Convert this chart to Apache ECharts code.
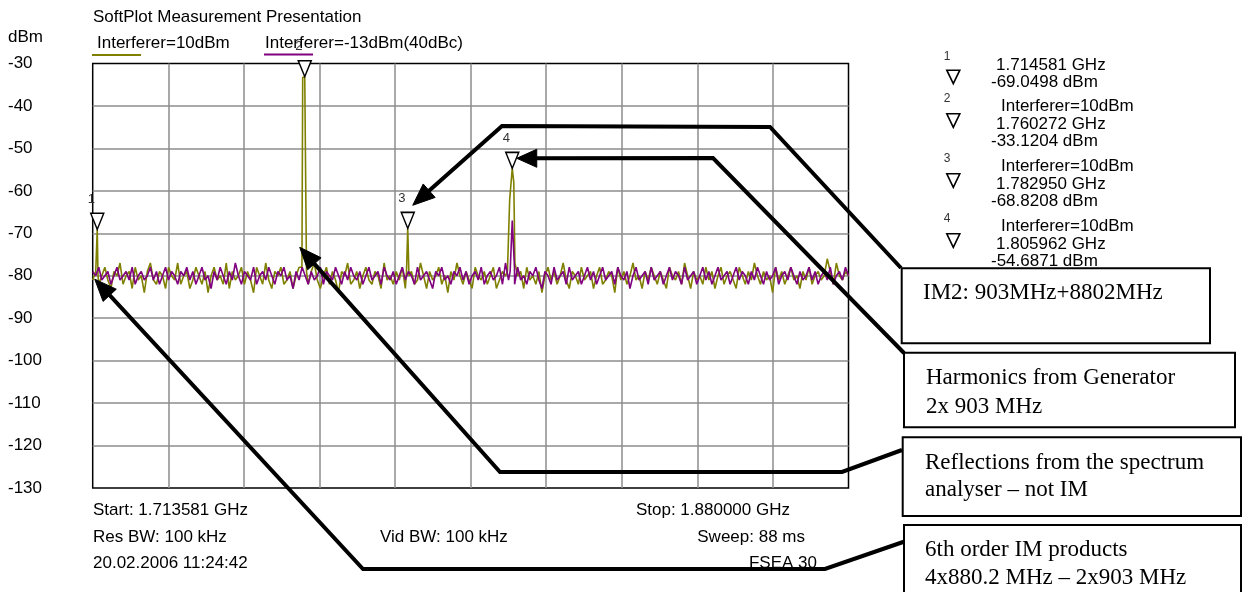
<!DOCTYPE html>
<html><head><meta charset="utf-8">
<script src="https://cdn.jsdelivr.net/npm/echarts@6/dist/echarts.min.js"></script>
<style>html,body{margin:0;padding:0;background:#fff}#c{width:1242px;height:592px}</style>
</head><body><div id="c"></div>
<script>
// ---------------- data ----------------
const START_GHZ = 1.713581;
const STOP_GHZ = 1.880000;
const Y_MIN = -130, Y_MAX = -30, Y_STEP = 10;
const seriesNames = ['Interferer=10dBm', 'Interferer=-13dBm(40dBc)'];
const seriesColors = ['#808000', '#800080'];

// noise floor of the sweep (dBm), evenly spaced from start to stop
const yellowNoise = [
-81,-79,-82,-80,-78,-81,-83,-79,-80,-77,
-82,-80,-79,-83,-78,-81,-80,-84,-79,-77,
-81,-82,-79,-80,-83,-78,-80,-81,-77,-82,
-80,-79,-83,-81,-78,-80,-82,-79,-84,-80,
-78,-81,-80,-82,-77,-83,-79,-81,-80,-78,
-82,-79,-81,-84,-78,-80,-82,-77,-81,-83,
-79,-80,-78,-82,-81,-79,-83,-80,-78,-81,
-80,-82,-79,-77,-81,-83,-80,-78,-82,-79,
-81,-84,-79,-80,-77,-82,-81,-79,-83,-80,
-78,-81,-82,-79,-80,-83,-77,-81,-80,-82,
-79,-81,-78,-83,-80,-79,-82,-81,-77,-80,
-83,-79,-81,-80,-78,-82,-80,-84,-79,-81,
-77,-80,-82,-79,-81,-83,-78,-80,-81,-79,
-82,-80,-78,-83,-81,-79,-80,-82,-77,-81,
-80,-79,-83,-78,-81,-80,-82,-79,-84,-80,
-78,-81,-79,-82,-80,-77,-81,-83,-79,-80,
-82,-78,-81,-80,-79,-83,-80,-78,-82,-81,
-79,-80,-84,-78,-81,-79,-82,-80,-77,-81,
-80,-83,-79,-81,-78,-80,-82,-79,-81,-83,
-78,-80,-81,-79,-82,-77,-80,-83,-79,-81,
-80,-82,-78,-81,-79,-83,-80,-78,-82,-80,
-79,-81,-83,-78,-80,-82,-79,-81,-77,-80,
-82,-79,-81,-80,-84,-78,-81,-79,-82,-80,
-78,-81,-80,-83,-79,-81,-78,-82,-80,-79,
-81,-80,-76,-79,-82,-77,-80,-81,-79,-80
];
const purpleNoise = [
-79,-80,-78,-81,-80,-79,-82,-80,-78,-81,
-80,-79,-81,-78,-82,-80,-79,-81,-80,-78,
-81,-79,-82,-80,-78,-81,-79,-80,-82,-79,
-80,-78,-81,-79,-82,-80,-78,-81,-80,-83,
-79,-81,-78,-80,-82,-79,-81,-77,-80,-82,
-79,-80,-81,-78,-82,-80,-79,-81,-78,-80,
-82,-79,-80,-78,-81,-80,-83,-79,-81,-78,
-80,-82,-79,-81,-80,-78,-82,-79,-80,-81,
-78,-80,-82,-79,-81,-78,-80,-81,-79,-82,
-80,-78,-81,-80,-79,-82,-78,-80,-81,-79,
-82,-80,-78,-81,-79,-80,-82,-78,-81,-80,
-79,-81,-83,-79,-80,-78,-81,-80,-82,-79,
-80,-78,-81,-79,-82,-80,-79,-81,-78,-82,
-80,-79,-81,-80,-78,-82,-77,-81,-79,-82,
-78,-81,-80,-82,-79,-80,-78,-81,-83,-79,
-80,-82,-78,-81,-80,-79,-82,-78,-81,-80,
-79,-82,-80,-78,-81,-79,-82,-80,-78,-81,
-80,-79,-82,-78,-80,-81,-79,-83,-80,-78,
-81,-80,-79,-82,-78,-81,-80,-79,-82,-80,
-78,-81,-79,-80,-82,-78,-81,-80,-79,-82,
-80,-78,-81,-79,-82,-80,-78,-81,-80,-79,
-82,-80,-78,-81,-79,-80,-82,-79,-81,-78,
-80,-82,-79,-81,-80,-78,-82,-80,-79,-81,
-78,-80,-82,-79,-81,-80,-78,-81,-79,-82,
-80,-79,-81,-78,-82,-80,-79,-81,-78,-80
];
// spectral lines [GHz, dBm]
const yellowPeaks = [
  [[1.71440,-79],[1.714581,-69.0498],[1.71475,-80]],
  [[1.75965,-78],[1.75982,-33.3],[1.760272,-33.1204],[1.76050,-33.4],[1.76066,-79]],
  [[1.78268,-79],[1.782950,-68.8208],[1.78322,-80]],
  [[1.80490,-79],[1.80540,-62],[1.805962,-54.6871],[1.80630,-58],[1.80655,-77]]
];
const purplePeaks = [
  [[1.80550,-79],[1.805962,-67],[1.80645,-78]]
];
// markers
const markerFreqs  = [1.714581, 1.760272, 1.782950, 1.805962];
const markerLevels = [-69.0498, -33.1204, -68.8208, -54.6871];
const markerTrace  = ['', 'Interferer=10dBm', 'Interferer=10dBm', 'Interferer=10dBm'];
// annotation texts
const annotations = [
  ['IM2: 903MHz+8802MHz'],
  ['Harmonics from Generator', '2x 903 MHz'],
  ['Reflections from the spectrum', 'analyser \u2013 not IM'],
  ['6th order IM products', '4x880.2 MHz \u2013 2x903 MHz']
];
const titleText = 'SoftPlot Measurement Presentation';
const unitText = 'dBm';
const resBW = 'Res BW: 100 kHz', vidBW = 'Vid BW: 100 kHz', sweep = 'Sweep: 88 ms';
const dateText = '20.02.2006 11:24:42', instr = 'FSEA 30';

// ---------------- build ----------------
function buildTrace(noise, peaks) {
  const step = (STOP_GHZ - START_GHZ) / (noise.length - 1);
  let pts = noise.map((v, i) => [START_GHZ + i * step, v]);
  peaks.forEach(g => {
    const lo = g[0][0], hi = g[g.length - 1][0];
    pts = pts.filter(p => p[0] < lo || p[0] > hi);
    pts = pts.concat(g);
  });
  pts.sort((a, b) => a[0] - b[0]);
  return pts;
}
const SANS = '"Liberation Sans", Arial, sans-serif';
const SERIF = '"Liberation Serif", "Times New Roman", serif';

const chart = echarts.init(document.getElementById('c'), null, {renderer: 'canvas'});
const gridL = 92.7, gridT = 63.5, gridR = 1242 - 848.5, gridB = 592 - 488;

const option = {
  animation: false,
  backgroundColor: '#fff',
  grid: {left: gridL, top: gridT, right: gridR, bottom: gridB, show: true, borderColor: '#000', borderWidth: 1.5, backgroundColor: 'transparent'},
  xAxis: [
    {type: 'value', min: START_GHZ, max: STOP_GHZ, axisLine: {show: false}, axisTick: {show: false}, axisLabel: {show: false}, splitLine: {show: false}},
    {type: 'value', min: 0, max: 10, interval: 1, position: 'bottom', axisLine: {show: false}, axisTick: {show: false}, axisLabel: {show: false},
     splitLine: {show: true, showMinLine: false, showMaxLine: false, lineStyle: {color: '#8c8c8c', width: 1.5}}}
  ],
  yAxis: {
    type: 'value', min: Y_MIN, max: Y_MAX, interval: Y_STEP,
    axisLine: {show: false}, axisTick: {show: false},
    axisLabel: {align: 'left', margin: gridL - 8, color: '#000', fontSize: 17, fontFamily: SANS},
    splitLine: {show: true, showMinLine: false, showMaxLine: false, lineStyle: {color: '#8c8c8c', width: 1.5}}
  },
  series: [
    {name: seriesNames[0], type: 'line', xAxisIndex: 0, data: buildTrace(yellowNoise, yellowPeaks), showSymbol: false, symbol: 'none',
     lineStyle: {color: seriesColors[0], width: 1.6}, z: 3},
    {name: seriesNames[1], type: 'line', xAxisIndex: 0, data: buildTrace(purpleNoise, purplePeaks), showSymbol: false, symbol: 'none',
     lineStyle: {color: seriesColors[1], width: 1.6}, z: 4},
    {name: 'markers', type: 'scatter', xAxisIndex: 0, z: 6,
     data: markerFreqs.map((f, i) => [f, markerLevels[i]]),
     symbol: 'triangle', symbolRotate: 180, symbolSize: [13, 16], symbolOffset: [0, '-50%'],
     itemStyle: {color: '#fff', borderColor: '#000', borderWidth: 1.5, opacity: 1},
     label: {show: true, position: 'top', distance: 7, offset: [-6, 0], formatter: p => String(p.dataIndex + 1), fontSize: 13, color: '#333', fontFamily: SANS}}
  ]
};
chart.setOption(option);

// ---------------- graphic overlay ----------------
function txt(text, x, y, opt) {
  opt = opt || {};
  return {type: 'text', x: x, y: y, z: 100, silent: true,
    style: {text: text, fill: opt.fill || '#000', font: opt.font || ('17px ' + SANS),
      align: opt.align || 'left', verticalAlign: 'middle', textAlign: opt.align || 'left', textVerticalAlign: 'middle'}};
}
function arrow(pts, headLen, headHalf) {
  const n = pts.length, tip = pts[n - 1], prev = pts[n - 2];
  const dx = tip[0] - prev[0], dy = tip[1] - prev[1], L = Math.hypot(dx, dy);
  const ux = dx / L, uy = dy / L;
  const base = [tip[0] - ux * headLen, tip[1] - uy * headLen];
  const left = [base[0] - uy * headHalf, base[1] + ux * headHalf];
  const right = [base[0] + uy * headHalf, base[1] - ux * headHalf];
  const linePts = pts.slice(0, n - 1).concat([[tip[0] - ux * headLen * 0.7, tip[1] - uy * headLen * 0.7]]);
  return [
    {type: 'polyline', z: 90, silent: true, shape: {points: linePts}, style: {stroke: '#000', lineWidth: 4, fill: null, lineJoin: 'miter'}},
    {type: 'polygon', z: 91, silent: true, shape: {points: [tip, left, right]}, style: {fill: '#000', stroke: '#000', lineWidth: 1}}
  ];
}
const px = (f, v) => chart.convertToPixel({xAxisIndex: 0, yAxisIndex: 0}, [f, v]);
const g = [];
// title, unit, legend
g.push(txt(titleText, 93, 17));
g.push(txt(unitText, 8, 37));
g.push(txt(seriesNames[0], 97, 43));
g.push({type: 'line', z: 100, shape: {x1: 92, y1: 55, x2: 141, y2: 55}, style: {stroke: seriesColors[0], lineWidth: 2}});
g.push(txt(seriesNames[1], 265, 43));
g.push({type: 'line', z: 100, shape: {x1: 264, y1: 54.5, x2: 313, y2: 54.5}, style: {stroke: seriesColors[1], lineWidth: 2}});
// footer
g.push(txt('Start: ' + START_GHZ.toFixed(6) + ' GHz', 93, 510));
g.push(txt('Stop: ' + STOP_GHZ.toFixed(6) + ' GHz', 790, 510, {align: 'right'}));
g.push(txt(resBW, 93, 537));
g.push(txt(vidBW, 380, 537));
g.push(txt(sweep, 805, 537, {align: 'right'}));
g.push(txt(dateText, 93, 563));
g.push(txt(instr, 817, 563, {align: 'right'}));
// marker list
const groupTop = [56.7, 98.3, 158.3, 218.3];
markerFreqs.forEach((f, i) => {
  const t = groupTop[i];
  g.push(txt(String(i + 1), 947, t, {font: '12px ' + SANS, fill: '#333', align: 'center'}));
  const triY = i === 0 ? t + 20 : t + 22;
  g.push({type: 'polygon', z: 100, x: 953.3, y: triY, shape: {points: [[-6.5, -6.5], [6.5, -6.5], [0, 7]]}, style: {fill: '#fff', stroke: '#000', lineWidth: 1.6}});
  let y = t + 8.3;
  if (markerTrace[i]) { g.push(txt(markerTrace[i], 1001, y)); y += 17; }
  g.push(txt(f.toFixed(6) + ' GHz', 996, y + (i === 0 ? 0 : 0.3)));
  g.push(txt(markerLevels[i].toFixed(4) + ' dBm', 991, y + 17.5));
});
// annotation boxes
const boxes = [
  {x: 901.7, y: 268.3, w: 308.3, h: 75, tx: 923, ty: [293]},
  {x: 904, y: 352.7, w: 331, h: 74.6, tx: 926, ty: [378.3, 406.7]},
  {x: 902.7, y: 437.3, w: 338.3, h: 78.7, tx: 925, ty: [463.3, 490]},
  {x: 904, y: 525, w: 337, h: 90, tx: 925, ty: [550, 578]}
];
boxes.forEach((b, i) => {
  g.push({type: 'rect', z: 95, shape: {x: b.x, y: b.y, width: b.w, height: b.h}, style: {fill: '#fff', stroke: '#000', lineWidth: 2}});
  annotations[i].forEach((line, k) => g.push(txt(line, b.tx, b.ty[k], {font: '23px ' + SERIF})));
});
// arrows (tips anchored to the markers / trace)
const m2 = px(markerFreqs[1], markerLevels[1]);
const m3 = px(markerFreqs[2], markerLevels[2]);
const m4 = px(markerFreqs[3], markerLevels[3]);
const m1 = px(markerFreqs[0], markerLevels[0]);
const tipA = [m3[0] + 5, m3[1] - 23];
const tipB = [m4[0] + 4.5, m4[1] - 10];
const tipC = [m2[0] - 5, px(markerFreqs[1], -73.3)[1]];
const tipD = [m1[0] - 2.5, px(markerFreqs[0], -80.8)[1]];
arrow([[901, 268], [770, 127], [502, 126], tipA], 22, 9).forEach(e => g.push(e));
arrow([[904, 353], [713, 158], tipB], 20, 9).forEach(e => g.push(e));
arrow([[902, 450], [842, 472], [500, 472], tipC], 22, 9).forEach(e => g.push(e));
arrow([[906, 541], [825, 569], [363, 569], tipD], 22, 9).forEach(e => g.push(e));

chart.setOption({graphic: {elements: g}});
</script></body></html>
